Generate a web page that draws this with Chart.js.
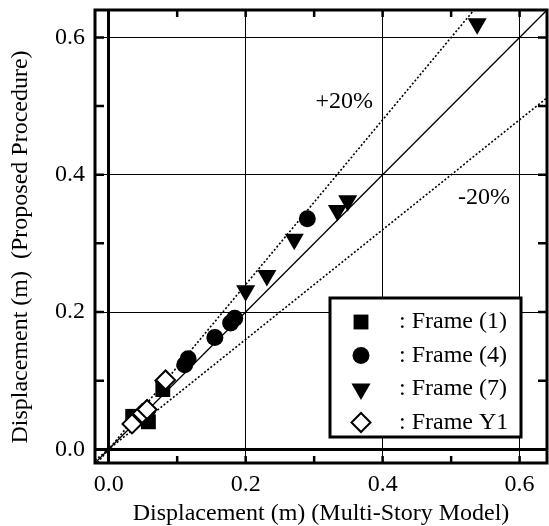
<!DOCTYPE html>
<html>
<head>
<meta charset="utf-8">
<script src="https://cdn.jsdelivr.net/npm/chart.js@4.4.1/dist/chart.umd.min.js"></script>
<style>
  html, body { margin: 0; padding: 0; background: #fff; }
  #wrap { width: 549px; height: 526px; }
</style>
</head>
<body>
<div id="wrap"><canvas id="chart" width="549" height="526"></canvas></div>
<script>
// Frame (1)
const frame1X = [0.035, 0.058, 0.079];
const frame1Y = [0.048, 0.040, 0.087];
// Frame (4)
const frame4X = [0.111, 0.116, 0.155, 0.178, 0.184, 0.290];
const frame4Y = [0.123, 0.132, 0.163, 0.184, 0.191, 0.336];
// Frame (7)
const frame7X = [0.055, 0.080, 0.200, 0.231, 0.271, 0.334, 0.349, 0.538];
const frame7Y = [0.046, 0.093, 0.231, 0.253, 0.306, 0.348, 0.362, 0.620];
// Frame Y1
const frameY1X = [0.034, 0.049, 0.056, 0.083];
const frameY1Y = [0.037, 0.052, 0.058, 0.101];

// reference lines (end points)
const refLineX = [-0.02, 0.64];
const exactY = [-0.02, 0.64];
const plus20Y = [-0.024, 0.768];
const minus20Y = [-0.016, 0.512];

const tickValues = [0.0, 0.2, 0.4, 0.6];
const frameTickValues = [0.0, 0.1, 0.2, 0.3, 0.4, 0.5, 0.6];
const axisMin = -0.02;
const axisMax = 0.64;

const xTitle = "Displacement (m) (Multi-Story Model)";
const yTitle = "Displacement (m)  (Proposed Procedure)";

const FONT = "'Liberation Serif', 'Times New Roman', serif";

function toPoints(xs, ys) {
    return xs.map((x, i) => ({ x: x, y: ys[i] }));
}

const markerSets = [
    { label: ": Frame (1)", x: frame1X, y: frame1Y, style: "rect", r: 10.5, fill: "#000", rot: 0 },
    { label: ": Frame (4)", x: frame4X, y: frame4Y, style: "circle", r: 8.5, fill: "#000", rot: 0 },
    { label: ": Frame (7)", x: frame7X, y: frame7Y, style: "triangle", r: 11, fill: "#000", rot: 180 },
    { label: ": Frame Y1", x: frameY1X, y: frameY1Y, style: "rectRot", r: 9.5, fill: "#fff", rot: 0 }
];

const datasets = markerSets.map((m, i) => ({
    type: "scatter",
    label: m.label,
    data: toPoints(m.x, m.y),
    pointStyle: m.style,
    pointRadius: m.r,
    pointRotation: m.rot,
    pointBackgroundColor: m.fill,
    pointBorderColor: "#000",
    pointBorderWidth: m.fill === "#fff" ? 2 : 0,
    showLine: false,
    order: 4 - i,
    isMarker: true
}));

function refLine(ys, dash) {
    return {
        type: "line",
        label: "",
        data: toPoints(refLineX, ys),
        borderColor: "#000",
        borderWidth: dash ? 1.6 : 1.3,
        borderDash: dash ? [2, 2] : [],
        pointRadius: 0,
        fill: false,
        order: 10
    };
}

datasets.push(refLine(exactY, false));
datasets.push(refLine(plus20Y, true));
datasets.push(refLine(minus20Y, true));

// Khung, vạch chia, chú giải
const framePlugin = {
    id: "framePlugin",
    afterDatasetsDraw(chart) {
        const { ctx, chartArea: a, scales: { x, y } } = chart;
        ctx.save();
        ctx.strokeStyle = "#000";
        ctx.lineWidth = 2.5;
        ctx.beginPath();
        frameTickValues.forEach(v => {
            const px = x.getPixelForValue(v);
            const py = y.getPixelForValue(v);
            ctx.moveTo(px, a.bottom); ctx.lineTo(px, a.bottom - 7);
            ctx.moveTo(px, a.top); ctx.lineTo(px, a.top + 7);
            ctx.moveTo(a.left, py); ctx.lineTo(a.left + 9, py);
            ctx.moveTo(a.right, py); ctx.lineTo(a.right - 9, py);
        });
        ctx.stroke();
        ctx.lineWidth = 3;
        ctx.strokeRect(a.left, a.top, a.right - a.left, a.bottom - a.top);

        // +20% / -20%
        ctx.fillStyle = "#000";
        ctx.font = "24px " + FONT;
        ctx.textAlign = "center";
        ctx.textBaseline = "middle";
        ctx.fillText("+20%", x.getPixelForValue(0.344), y.getPixelForValue(0.506));
        ctx.fillText("-20%", x.getPixelForValue(0.548), y.getPixelForValue(0.366));

        // y title
        ctx.save();
        ctx.translate(21, 247);
        ctx.rotate(-Math.PI / 2);
        ctx.fillText(yTitle, 0, 0);
        ctx.restore();

        // legend
        const bx = 330, by = 298, bw = 191, bh = 139;
        ctx.fillStyle = "#fff";
        ctx.fillRect(bx, by, bw, bh);
        ctx.lineWidth = 3;
        ctx.strokeRect(bx, by, bw, bh);
        const rows = chart.data.datasets.filter(d => d.isMarker);
        rows.forEach((d, i) => {
            const ry = by + 24 + i * 33.5;
            ctx.fillStyle = d.pointBackgroundColor;
            ctx.strokeStyle = "#000";
            ctx.lineWidth = d.pointBorderWidth;
            Chart.helpers.drawPoint(ctx, {
                pointStyle: d.pointStyle,
                radius: d.pointRadius,
                rotation: d.pointRotation,
                borderWidth: d.pointBorderWidth
            }, bx + 31, ry);
            ctx.fillStyle = "#000";
            ctx.textAlign = "left";
            ctx.textBaseline = "middle";
            ctx.fillText(d.label, bx + 69, ry);
        });
        ctx.restore();
    }
};

const gridWidth = c => (c.tick && c.tick.value === 0 ? 3 : 1);

new Chart(document.getElementById("chart"), {
    data: { datasets: datasets },
    options: {
        responsive: false,
        animation: false,
        layout: { autoPadding: false, padding: { top: 10, right: 2, left: 0, bottom: 0 } },
        plugins: { legend: { display: false }, tooltip: { enabled: false } },
        scales: {
            x: {
                type: "linear",
                min: axisMin,
                max: axisMax,
                afterBuildTicks: s => { s.ticks = tickValues.map(v => ({ value: v })); },
                afterFit: s => { s.height = 63; s.paddingLeft = 0; s.paddingRight = 0; },
                ticks: {
                    callback: v => v.toFixed(1),
                    color: "#000",
                    font: { family: FONT, size: 24 },
                    padding: 7,
                    maxRotation: 0,
                    autoSkip: false
                },
                grid: { color: "#000", lineWidth: gridWidth, drawTicks: false },
                border: { display: false },
                title: {
                    display: true,
                    text: xTitle,
                    color: "#000",
                    font: { family: FONT, size: 24, lineHeight: 1 },
                    padding: { top: 0, bottom: 0 }
                }
            },
            y: {
                type: "linear",
                min: axisMin,
                max: axisMax,
                afterBuildTicks: s => { s.ticks = tickValues.map(v => ({ value: v })); },
                afterFit: s => { s.width = 95; s.paddingTop = 0; s.paddingBottom = 0; },
                ticks: {
                    callback: v => v.toFixed(1),
                    color: "#000",
                    font: { family: FONT, size: 24 },
                    padding: 10,
                    autoSkip: false
                },
                grid: { color: "#000", lineWidth: gridWidth, drawTicks: false },
                border: { display: false },
                title: { display: false }
            }
        }
    },
    plugins: [framePlugin]
});
</script>
</body>
</html>
